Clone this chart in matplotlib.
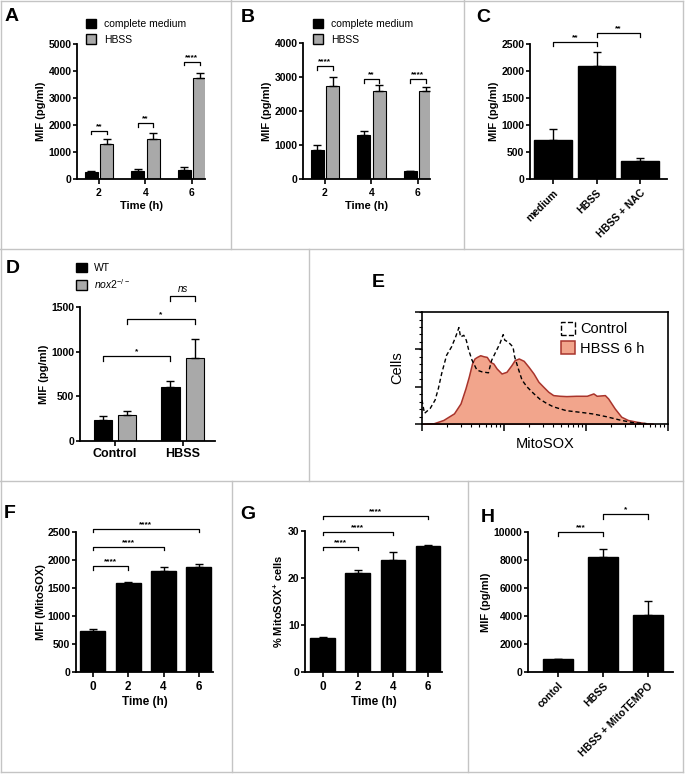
import numpy as np
import matplotlib.pyplot as plt
from matplotlib.lines import Line2D
from matplotlib.patches import Patch
from matplotlib.ticker import AutoMinorLocator, NullFormatter, LogLocator

plt.rcParams['font.family'] = ['Liberation Sans', 'DejaVu Sans']
plt.rcParams['mathtext.fontset'] = 'custom'
plt.rcParams['mathtext.rm'] = 'Liberation Sans'
plt.rcParams['mathtext.it'] = 'Liberation Sans:italic'
plt.rcParams['mathtext.bf'] = 'Liberation Sans:bold'

# ---- data ----
times = ['2', '4', '6']
a_medium = [270, 300, 330]
a_medium_err = [30, 80, 100]
a_hbss = [1300, 1480, 3730]
a_hbss_err = [170, 220, 200]
a_sig = ['**', '**', '****']
a_sig_y = [1775, 2060, 4340]

b_medium = [860, 1290, 230]
b_medium_err = [130, 110, 20]
b_hbss = [2750, 2600, 2600]
b_hbss_err = [250, 170, 120]
b_sig = ['****', '**', '****']
b_sig_y = [3320, 2930, 2930]

c_groups = ['medium', 'HBSS', 'HBSS + NAC']
c_vals = [720, 2100, 330]
c_err = [200, 250, 50]

d_groups = ['Control', 'HBSS']
d_wt = [240, 600]
d_wt_err = [40, 70]
d_nox = [290, 930]
d_nox_err = [45, 210]

# flow histogram, x in decades (0-3), y in % of max
ctrl_x = [0, 0.03, 0.10, 0.16, 0.20, 0.24, 0.30, 0.36, 0.41, 0.45, 0.47, 0.51, 0.54, 0.57,
          0.61, 0.67, 0.73, 0.81, 0.85, 0.91, 0.95, 0.99, 1.01, 1.05, 1.11, 1.13, 1.18, 1.22,
          1.28, 1.36, 1.44, 1.52, 1.60, 1.76, 1.97, 2.09, 2.25, 2.41, 2.57, 2.74]
ctrl_y = [21.4, 9.5, 13.9, 21.4, 31.8, 45.1, 61.4, 68.8, 77.7, 86.1, 77.7, 79.2, 74.8, 65.9,
          57.0, 48.1, 46.6, 45.7, 57.0, 65.9, 71.8, 79.8, 74.8, 73.3, 68.8, 59.9, 48.1, 39.2,
          33.2, 27.3, 22.0, 18.4, 15.4, 11.9, 10.1, 8.9, 6.5, 3.6, 1.2, 0.3]
hbss_x = [0, 0.14, 0.26, 0.39, 0.47, 0.53, 0.57, 0.61, 0.64, 0.67, 0.71, 0.75, 0.79, 0.83,
          0.87, 0.91, 0.97, 1.03, 1.09, 1.13, 1.18, 1.24, 1.30, 1.36, 1.42, 1.48, 1.54, 1.60,
          1.68, 1.76, 1.88, 2.01, 2.09, 2.13, 2.23, 2.27, 2.35, 2.43, 2.51, 2.61, 2.74, 2.82]
hbss_y = [0, 0.6, 3.6, 9.5, 18.4, 31.8, 42.1, 54.0, 58.5, 59.9, 61.4, 60.5, 59.9, 55.5,
          54.0, 49.6, 45.1, 46.6, 52.5, 57.0, 58.5, 56.4, 51.0, 45.1, 37.7, 33.2, 28.8, 25.8,
          25.2, 24.9, 25.2, 25.2, 27.3, 25.2, 25.8, 22.8, 13.9, 6.5, 3.6, 2.1, 0.6, 0]

f_times = ['0', '2', '4', '6']
f_vals = [740, 1590, 1800, 1880]
f_err = [25, 15, 70, 55]
f_sig_y = [1890, 2233, 2560]

g_vals = [7.2, 21.0, 23.8, 26.8]
g_err = [0.3, 0.7, 1.8, 0.3]
g_sig_y = [26.6, 29.8, 33.2]

h_groups = ['contol', 'HBSS', 'HBSS + MitoTEMPO']
h_vals = [900, 8250, 4100]
h_err = [30, 550, 1000]

GRAY = '#A9A9A9'
SALMON = '#F2A58C'
DARKRED = '#A8342C'
BORDER = '#C4C4C4'

W, H = 685, 774
fig = plt.figure(figsize=(W / 100, H / 100), dpi=100)


def add_ax(l, t, r, b):
    return fig.add_axes([l / W, 1 - b / H, (r - l) / W, (b - t) / H])


def prism(ax):
    for s in ['top', 'right']:
        ax.spines[s].set_visible(False)
    for s in ['left', 'bottom']:
        ax.spines[s].set_linewidth(1.3)
    ax.tick_params(direction='out', width=1.2, labelsize=7.5)
    ax.tick_params(axis='x', length=3.8, pad=2.5)
    ax.tick_params(axis='y', length=3, pad=1)


def bolden(ax):
    for lab in ax.get_xticklabels() + ax.get_yticklabels():
        lab.set_fontweight('bold')


def bracket(ax, x1, x2, y, h, txt, italic=False):
    ax.plot([x1, x1, x2, x2], [y - h, y, y, y - h], color='black', lw=0.9, clip_on=False)
    if italic:
        ax.text((x1 + x2) / 2, y + h * 0.6, txt, ha='center', va='bottom', fontsize=7,
                style='italic', clip_on=False)
    else:
        ax.text((x1 + x2) / 2, y + h * 0.2, txt, ha='center', va='bottom', fontsize=6,
                fontweight='bold', clip_on=False)


def panel_label(x, y, s):
    fig.text(x / W, 1 - y / H, s, fontsize=14, fontweight='bold', va='top', ha='left')


def up_err(ax, x, y, e):
    ax.errorbar(x, y, yerr=[np.zeros(len(y)), e], fmt='none', ecolor='black',
                elinewidth=1, capsize=3, capthick=1)


def grouped(ax, med, med_err, hb, hb_err, sig, sig_y, tick_h, ymax, xl):
    x = np.arange(len(times))
    w, off = 0.28, 0.165
    ax.bar(x - off, med, w, color='black', edgecolor='black', lw=0.8)
    ax.bar(x + off, hb, w, color=GRAY, edgecolor='black', lw=0.8)
    up_err(ax, x - off, med, med_err)
    up_err(ax, x + off, hb, hb_err)
    for i in range(len(x)):
        bracket(ax, x[i] - off, x[i] + off, sig_y[i], tick_h, sig[i])
    ax.set_xlim(*xl)
    ax.set_ylim(0, ymax)
    ax.set_xticks(x, times)
    ax.set_ylabel('MIF (pg/ml)', fontsize=8, fontweight='bold', labelpad=2)
    ax.set_xlabel('Time (h)', fontsize=8, fontweight='bold', labelpad=2)
    prism(ax)
    bolden(ax)
    ax.legend([Patch(facecolor='black', edgecolor='black'),
               Patch(facecolor=GRAY, edgecolor='black')],
              ['complete medium', 'HBSS'], loc='upper left', frameon=False,
              bbox_to_anchor=(0, 0), borderpad=0, borderaxespad=0, handlelength=1.0,
              handleheight=1.0, handletextpad=0.7, labelspacing=0.5, fontsize=7.5)
    return ax


# ---- A ----
axA = add_ax(77, 44, 205, 179)
grouped(axA, a_medium, a_medium_err, a_hbss, a_hbss_err, a_sig, a_sig_y, 125, 5000, (-0.47, 2.28))
axA.set_yticks([0, 1000, 2000, 3000, 4000, 5000])
bolden(axA)
axA.get_legend().set_bbox_to_anchor((86 / W, 1 - 19 / H), transform=fig.transFigure)
panel_label(5, 8, 'A')

# ---- B ----
axB = add_ax(303, 43, 430, 179)
grouped(axB, b_medium, b_medium_err, b_hbss, b_hbss_err, b_sig, b_sig_y, 100, 4000, (-0.47, 2.26))
axB.set_yticks([0, 1000, 2000, 3000, 4000])
bolden(axB)
axB.get_legend().set_bbox_to_anchor((313 / W, 1 - 19 / H), transform=fig.transFigure)
panel_label(241, 9, 'B')

# ---- C ----
axC = add_ax(530, 44, 667, 179)
xc = np.arange(len(c_groups))
axC.bar(xc, c_vals, 0.87, color='black', edgecolor='black')
up_err(axC, xc, c_vals, c_err)
bracket(axC, 0, 1, 2530, 75, '**')
bracket(axC, 1, 2, 2700, 75, '**')
axC.set_xlim(-0.53, 2.62)
axC.set_ylim(0, 2500)
axC.set_yticks([0, 500, 1000, 1500, 2000, 2500])
axC.set_xticks(xc, c_groups, rotation=45, ha='right', rotation_mode='anchor')
axC.set_ylabel('MIF (pg/ml)', fontsize=8, fontweight='bold', labelpad=2)
prism(axC)
bolden(axC)
panel_label(476, 9, 'C')

# ---- D ----
axD = add_ax(80, 307, 215, 441)
xd = np.arange(len(d_groups))
dw, doff = 0.27, 0.18
axD.bar(xd - doff, d_wt, dw, color='black', edgecolor='black', lw=0.8)
axD.bar(xd + doff, d_nox, dw, color=GRAY, edgecolor='black', lw=0.8)
up_err(axD, xd - doff, d_wt, d_wt_err)
up_err(axD, xd + doff, d_nox, d_nox_err)
bracket(axD, xd[0] - doff, xd[1] - doff, 948, 50, '*')
bracket(axD, xd[0] + doff, xd[1] + doff, 1362, 50, '*')
bracket(axD, xd[1] - doff, xd[1] + doff, 1620, 50, 'ns', italic=True)
axD.set_xlim(-0.52, 1.48)
axD.set_ylim(0, 1500)
axD.set_yticks([0, 500, 1000, 1500])
axD.set_xticks(xd, d_groups)
axD.set_ylabel('MIF (pg/ml)', fontsize=8, fontweight='bold', labelpad=2)
prism(axD)
axD.tick_params(axis='x', labelsize=9, pad=1.5)
bolden(axD)
axD.legend([Patch(facecolor='black', edgecolor='black'), Patch(facecolor=GRAY, edgecolor='black')],
           ['WT', r'$\mathit{nox2}^{-/-}$'], loc='upper left', frameon=False,
           bbox_to_anchor=(76 / W, 1 - 263 / H), bbox_transform=fig.transFigure,
           borderpad=0, borderaxespad=0, handlelength=1.1, handleheight=1.0,
           handletextpad=0.6, labelspacing=0.35, fontsize=7.5)
panel_label(6, 260, 'D')

# ---- E ----
axE = add_ax(422, 312, 668, 424)
axE.set_xscale('log')
hx = 10 ** np.array(hbss_x)
cx = 10 ** np.array(ctrl_x)
axE.fill_between(hx, hbss_y, color=SALMON, edgecolor=DARKRED, lw=1.1)
axE.plot(cx, ctrl_y, color='black', lw=1.0, dashes=(3, 2))
axE.set_xlim(1, 1000)
axE.set_ylim(0, 100)
axE.xaxis.set_major_locator(LogLocator(base=10))
axE.xaxis.set_minor_locator(LogLocator(base=10, subs=np.arange(2, 10)))
axE.xaxis.set_major_formatter(NullFormatter())
axE.xaxis.set_minor_formatter(NullFormatter())
axE.set_yticks([0, 33.3, 66.7, 100])
axE.yaxis.set_minor_locator(AutoMinorLocator(5))
axE.set_yticklabels([])
for s in axE.spines.values():
    s.set_linewidth(1.2)
axE.tick_params(which='major', direction='out', length=5, width=1.1)
axE.tick_params(which='minor', direction='out', length=2.5, width=0.8)
axE.set_ylabel('Cells', fontsize=10.5, labelpad=4)
axE.set_xlabel('MitoSOX', fontsize=10.5, labelpad=1)
axE.legend([Patch(facecolor='none', edgecolor='black', linestyle='--', lw=1),
            Patch(facecolor=SALMON, edgecolor=DARKRED, lw=1.1)],
           ['Control', 'HBSS 6 h'], loc='upper left', frameon=False,
           bbox_to_anchor=(561 / W, 1 - 322 / H), bbox_transform=fig.transFigure,
           borderpad=0, borderaxespad=0, handlelength=0.95, handleheight=0.95,
           handletextpad=0.35, labelspacing=0.35, fontsize=10.5)
panel_label(372, 274, 'E')

# ---- F ----
axF = add_ax(76, 532, 213, 672)
xf = np.arange(len(f_times))
axF.bar(xf, f_vals, 0.71, color='black', edgecolor='black')
up_err(axF, xf, f_vals, f_err)
for j, yv in enumerate(f_sig_y):
    bracket(axF, 0, j + 1, yv, 60, '****')
axF.set_xlim(-0.48, 3.4)
axF.set_ylim(0, 2500)
axF.set_yticks([0, 500, 1000, 1500, 2000, 2500])
axF.set_xticks(xf, f_times)
axF.set_ylabel('MFI (MitoSOX)', fontsize=8, fontweight='bold', labelpad=1)
axF.set_xlabel('Time (h)', fontsize=8.5, fontweight='bold', labelpad=2)
prism(axF)
axF.tick_params(axis='x', labelsize=8.5)
bolden(axF)
panel_label(4, 505, 'F')

# ---- G ----
axG = add_ax(305, 531, 442, 672)
axG.bar(xf, g_vals, 0.71, color='black', edgecolor='black')
up_err(axG, xf, g_vals, g_err)
for j, yv in enumerate(g_sig_y):
    bracket(axG, 0, j + 1, yv, 0.7, '****')
axG.set_xlim(-0.51, 3.4)
axG.set_ylim(0, 30)
axG.set_yticks([0, 10, 20, 30])
axG.set_xticks(xf, f_times)
axG.set_ylabel(r'% MitoSOX$^{\mathbf{+}}$ cells', fontsize=8, fontweight='bold', labelpad=2)
axG.set_xlabel('Time (h)', fontsize=8.5, fontweight='bold', labelpad=2)
prism(axG)
axG.tick_params(axis='x', labelsize=8.5)
bolden(axG)
panel_label(240, 506, 'G')

# ---- H ----
axH = add_ax(528, 532, 673, 672)
xh = np.arange(len(h_groups))
axH.bar(xh, h_vals, 0.67, color='black', edgecolor='black')
up_err(axH, xh, h_vals, h_err)
bracket(axH, 0, 1, 10000, 300, '***')
bracket(axH, 1, 2, 11260, 300, '*')
axH.set_xlim(-0.67, 2.56)
axH.set_ylim(0, 10000)
axH.set_yticks([0, 2000, 4000, 6000, 8000, 10000])
axH.set_xticks(xh, h_groups, rotation=45, ha='right', rotation_mode='anchor')
axH.set_ylabel('MIF (pg/ml)', fontsize=8, fontweight='bold', labelpad=2)
prism(axH)
bolden(axH)
panel_label(481, 509, 'H')

# ---- panel borders ----
def seg(x0, y0, x1, y1):
    fig.add_artist(Line2D([x0 / W, x1 / W], [1 - y0 / H, 1 - y1 / H], color=BORDER, lw=1))

seg(0.5, 0.5, 683, 0.5)
seg(0.5, 772, 683, 772)
seg(0.5, 0.5, 0.5, 772)
seg(683, 0.5, 683, 772)
seg(0, 249, 683, 249)
seg(0, 481, 683, 481)
seg(231, 0, 231, 249)
seg(464, 0, 464, 249)
seg(309, 249, 309, 481)
seg(232, 481, 232, 772)
seg(468, 481, 468, 772)

fig.savefig('out.png', dpi=100)
